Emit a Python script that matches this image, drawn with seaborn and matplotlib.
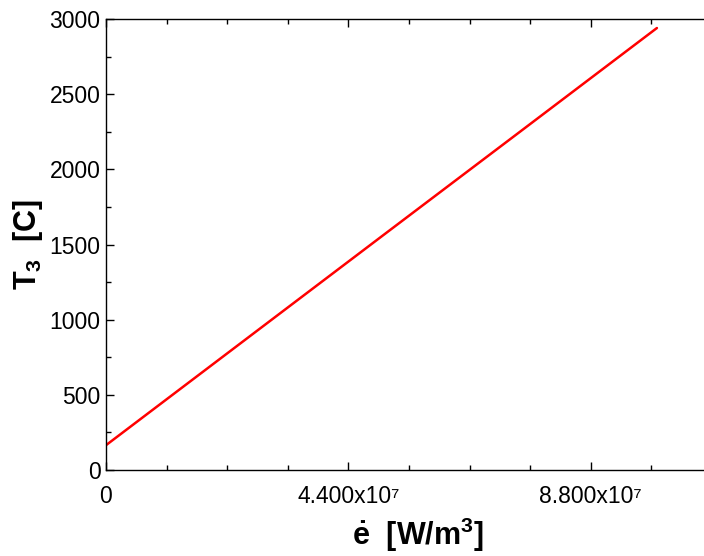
import numpy as np
import pandas as pd
import matplotlib
matplotlib.use('Agg')
import matplotlib.pyplot as plt
import seaborn as sns
from matplotlib.ticker import MultipleLocator, FuncFormatter

# heat generation rate [W/m3] vs. temperature T3 [C]
e_gen = [0.0, 2.5e7, 5.0e7, 7.5e7, 1.0e8]
T3    = [165, 859, 1553, 2246, 2940]

df = pd.DataFrame({'e': e_gen, 'T3': T3})

sns.set_theme(style='ticks')
plt.rcParams['font.family'] = ['Liberation Sans', 'DejaVu Sans']
plt.rcParams['mathtext.fontset'] = 'custom'
plt.rcParams['mathtext.rm'] = 'Liberation Sans:bold'
plt.rcParams['mathtext.it'] = 'Liberation Sans:bold'
plt.rcParams['mathtext.bf'] = 'Liberation Sans:bold'

fig = plt.figure(figsize=(7.04, 5.56), dpi=100)
ax = fig.add_axes([106/704, 86/556, 606/704, 451/556])

sns.lineplot(data=df, x='e', y='T3', color='#ff0000', lw=1.8, ax=ax)

ax.set_xlim(0, 1.1e8)
ax.set_ylim(0, 3000)
ax.xaxis.set_major_locator(MultipleLocator(4.4e7))
ax.xaxis.set_minor_locator(MultipleLocator(1.1e7))
ax.yaxis.set_major_locator(MultipleLocator(500))
ax.yaxis.set_minor_locator(MultipleLocator(250))

def xfmt(v, pos):
    if v == 0:
        return '0'
    return f'{v/1e7:.3f}x10\u2077'

ax.xaxis.set_major_formatter(FuncFormatter(xfmt))
ax.tick_params(which='both', direction='in', top=True, right=False,
               color='black', labelsize=16.5, labelcolor='black')
ax.tick_params(which='major', length=6, width=1)
ax.tick_params(which='minor', length=3.6, width=1)
ax.tick_params(axis='x', which='major', pad=11)
ax.tick_params(axis='y', which='major', pad=4)
for s in ax.spines.values():
    s.set_color('black')
    s.set_linewidth(1)

ax.set_xlabel(r'$\dot{e}$  [W/m$^3$]', fontsize=22, fontweight='bold',
              labelpad=5, color='black')
ax.set_ylabel(r'T$_3$  [C]', fontsize=22, fontweight='bold',
              labelpad=3, color='black')
ax.xaxis.label.set_x(0.514)

fig.savefig('out.png', dpi=100, facecolor='white')
